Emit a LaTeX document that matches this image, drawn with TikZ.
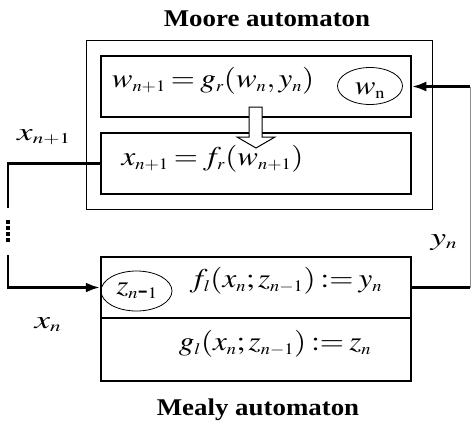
\documentclass[tikz,border=0pt]{standalone}
\usepackage{mathptmx}
\usepackage{fontspec}
\setmainfont{Liberation Serif}
\usetikzlibrary{shapes.geometric, arrows.meta, calc}
\DeclareMathSizes{27}{27}{16}{12}
\DeclareMathSizes{25}{25}{15}{11}
\thickmuskip=3mu
\medmuskip=2mu

\begin{document}
\begin{tikzpicture}[x=1pt, y=-1pt]
% Styles
\tikzstyle{frame} = [rectangle, draw=black, line width=1pt, minimum width=346pt, minimum height=168pt]
\tikzstyle{block} = [rectangle, draw=black, line width=2.5pt, minimum width=310pt, minimum height=61pt, inner sep=0pt]
\tikzstyle{state} = [ellipse, draw=black, line width=0.8pt, inner sep=0pt]
\tikzstyle{eq} = [font=\fontsize{27}{31}\selectfont, inner sep=0pt, anchor=base, xscale=1.15]
\tikzstyle{signal} = [font=\fontsize{25}{29}\selectfont, inner sep=0pt, anchor=base, xscale=1.4]
\tikzstyle{title} = [font=\bfseries\fontsize{24}{28}\selectfont, inner sep=0pt, anchor=base, xscale=1.12]
\tikzstyle{wire} = [line width=2.4pt]
\tikzstyle{arrow} = [wire, -{Latex[length=14pt, width=10pt]}]
\tikzstyle{hollow} = [draw=black, line width=1pt, fill=white]

\useasboundingbox (0,0) rectangle (471,428);

% Moore automaton
\node (moore) [frame] at (259,125) {};
\node (moore_title) [title] at (267,27) {Moore automaton};
\node (gr_box) [block] at (256,86.5) {};
\node (fr_box) [block] at (256,163.5) {};
\node (w_state) [state, minimum width=65pt, minimum height=37pt] at (370,86) {};
\node (w_label) [eq] at (370,94) {$w_{\mathrm{n}}$};
\node (gr_text) [eq] at (213,87) {$w_{n+1} = g_r(w_n, y_n)$};
\node (fr_text) [eq] at (212.5,165) {$x_{n+1} = f_r(w_{n+1})$};

% Mealy automaton
\node (fl_box) [block] at (256,287.5) {};
\node (gl_box) [block, minimum height=63pt] at (256,349.5) {};
\node (mealy_title) [title] at (258,415) {Mealy automaton};
\node (z_state) [state, minimum width=71pt, minimum height=40pt] at (136.5,291) {};
\node (z_label) [eq] at (137,294) {$z_{n\mbox{-}1}$};
\node (fl_text) [eq] at (286,287) {$f_l(x_n;z_{n-1})\mathrel{{:}{=}}y_n$};
\node (gl_text) [eq] at (275,350) {$g_l(x_n;z_{n-1})\mathrel{{:}{=}}z_n$};

% Hollow arrow
\draw [hollow] (249,107) -- (249,137) -- (237,137) -- (256,148) -- (275,137) -- (262,137) -- (262,107) -- cycle;

% Signals
\node (x_next) [signal] at (44,140) {$x_{n+1}$};
\node (x_now) [signal] at (48,328) {$x_n$};
\node (y_now) [signal] at (444,245) {$y_n$};

\coordinate (left_top) at (8,163.5);
\coordinate (left_a) at (8,208);
\coordinate (dots_top) at (8,220);
\coordinate (dots_bottom) at (8,243);
\coordinate (left_b) at (8,255);
\coordinate (left_bottom) at (8,287.5);
\coordinate (right_bottom) at (470,287.5);
\coordinate (right_top) at (470,86.5);

\draw [wire] (fr_box.west) -- (left_top) -- (left_a);
\draw [line width=4pt, dash pattern=on 3.5pt off 2.5pt] (dots_top) -- (dots_bottom);
\draw [arrow] (left_b) -- (left_bottom) -- (fl_box.west);
\draw [wire] (fl_box.east) -- (right_bottom);
\draw [black!45, line width=0.8pt] (right_bottom) -- (right_top);
\draw [arrow] (right_top) -- (gr_box.east);

\end{tikzpicture}
\end{document}
